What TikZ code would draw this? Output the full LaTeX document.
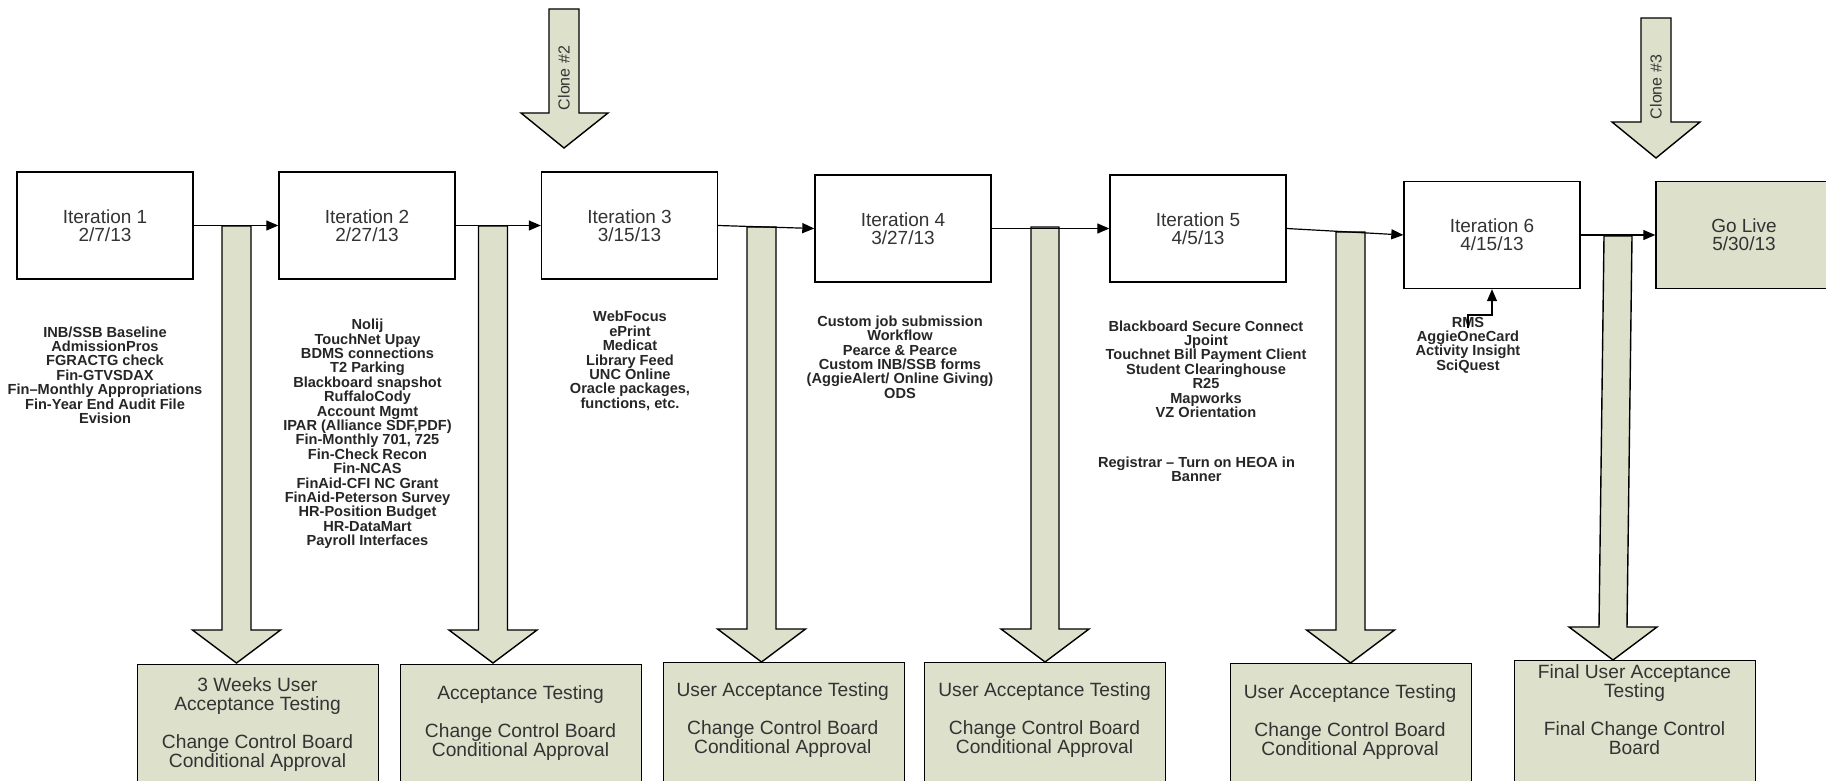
\documentclass[tikz,border=0pt]{standalone}
\usepackage{fontspec}
\setmainfont{Liberation Sans}
\usetikzlibrary{arrows.meta, positioning}
\definecolor{uagreen}{RGB}{221,224,203}
\tikzset{
  iterbox/.style={draw, line width=0.7pt, minimum width=88pt, minimum height=53.5pt, inner sep=0pt, align=center, font=\fontsize{9.5}{9}\selectfont, text=black!80},
  livebox/.style={iterbox, fill=uagreen},
  testbox/.style={draw, line width=0.7pt, fill=uagreen, minimum width=120.5pt, minimum height=70pt, anchor=north west},
  testtext/.style={align=center, inner sep=0pt, font=\fontsize{9.6}{9.5}\selectfont, text=black!80},
  itemlist/.style={align=center, inner sep=0pt, font=\bfseries\fontsize{7.3}{7.2}\selectfont, text=black!85},
  bigarrow/.style={draw, line width=0.7pt, fill=uagreen, line join=miter},
  flow/.style={line width=0.6pt, -{Triangle[length=6pt,width=5pt]}},
  clonetext/.style={rotate=90, inner sep=0pt, font=\fontsize{8}{8}\selectfont, text=black!80}
}

\begin{document}
\begin{tikzpicture}[x=0.5pt, y=-0.5pt]
  \useasboundingbox (0,0) rectangle (1826,781);
  \clip (0,0) rectangle (1826,781);
%% clone arrows
  \draw[bigarrow] (549,9) -- (549,113) -- (521,113) -- (564,148) -- (608,113) -- (579,113) -- (579,9) -- cycle;
  \node[clonetext] (clone2) at (564,78) {Clone \#2};
  \draw[bigarrow] (1641,18) -- (1641,122) -- (1612,122) -- (1656,158) -- (1700,122) -- (1671,122) -- (1671,18) -- cycle;
  \node[clonetext] (clone3) at (1656,87) {Clone \#3};
%% iterations
  \node[iterbox] (i1) at (105,225.5) {Iteration 1\\2/7/13};
  \node[iterbox] (i2) at (367,225.5) {Iteration 2\\2/27/13};
  \node[iterbox] (i3) at (629.5,225.5) {Iteration 3\\3/15/13};
  \node[iterbox] (i4) at (903,228.5) {Iteration 4\\3/27/13};
  \node[iterbox] (i5) at (1198,228.5) {Iteration 5\\4/5/13};
  \node[iterbox] (i6) at (1492,235) {Iteration 6\\4/15/13};
  \node[livebox] (golive) at (1744,235) {Go Live\\5/30/13};
%% down arrows to testing
  \draw[bigarrow] (222,226) -- (222,630) -- (192.5,630) -- (236.5,663) -- (280.5,630) -- (251,630) -- (251,226) -- cycle;
  \draw[bigarrow] (478.5,226) -- (478.5,630) -- (449,630) -- (493,663) -- (537,630) -- (507.5,630) -- (507.5,226) -- cycle;
  \draw[bigarrow] (747,227) -- (747,629) -- (717.5,629) -- (761.5,662) -- (805.5,629) -- (776,629) -- (776,227) -- cycle;
  \draw[bigarrow] (1031,227) -- (1031,629) -- (1001,629) -- (1045,662) -- (1089,629) -- (1059,629) -- (1059,227) -- cycle;
  \draw[bigarrow] (1336,232) -- (1336,630) -- (1306.5,630) -- (1350.5,663) -- (1394.5,630) -- (1365,630) -- (1365,232) -- cycle;
  \draw[bigarrow] (1604,236) -- (1599,627) -- (1569,627) -- (1613,660) -- (1657,627) -- (1627,627) -- (1632,236) -- cycle;
%% flow
  \draw[flow] (i1.east) -- (i2.west);
  \draw[flow] (i2.east) -- (i3.west);
  \draw[flow] (i3.east) -- (i4.west);
  \draw[flow] (i4.east) -- (i5.west);
  \draw[flow] (i5.east) -- (i6.west);
  \draw[flow] (i6.east) -- (golive.west);
%% what goes in
  \node[itemlist] (list1) at (105,375) {INB/SSB Baseline\\AdmissionPros\\FGRACTG check\\Fin-GTVSDAX\\Fin–Monthly Appropriations\\Fin-Year End Audit File\\Evision};
  \node[itemlist] (list2) at (367.5,434) {Nolij\\TouchNet Upay\\BDMS connections\\T2 Parking\\Blackboard snapshot\\RuffaloCody\\Account Mgmt\\IPAR (Alliance SDF,PDF)\\Fin-Monthly 701, 725\\Fin-Check Recon\\Fin-NCAS\\FinAid-CFI NC Grant\\FinAid-Peterson Survey\\HR-Position Budget\\HR-DataMart\\Payroll Interfaces};
  \node[itemlist] (list3) at (630,361) {WebFocus\\ePrint\\Medicat\\Library Feed\\UNC Online\\Oracle packages,\\functions, etc.};
  \node[itemlist] (list4) at (900,357) {Custom job submission\\Workflow\\Pearce \& Pearce\\Custom INB/SSB forms\\(AggieAlert/ Online Giving)\\ODS};
  \node[itemlist] (list5) at (1206,369) {Blackboard Secure Connect\\Jpoint\\Touchnet Bill Payment Client\\Student Clearinghouse\\R25\\Mapworks\\VZ Orientation};
  \node[itemlist] (heoa) at (1196.5,469) {Registrar – Turn on HEOA in\\Banner};
  \node[itemlist] (list6) at (1468,345) {RMS\\AggieOneCard\\Activity Insight\\SciQuest};
  \coordinate (rmsfoot) at (1468,328);
  \draw[flow] (rmsfoot) -- ++(0,-13) -| (i6.south);
%% testing
  \node[testbox] (t1) at (137,664) {};
  \node[testbox] (t2) at (400,664) {};
  \node[testbox] (t3) at (662.5,662) {};
  \node[testbox] (t4) at (924,662) {};
  \node[testbox] (t5) at (1230,663) {};
  \node[testbox] (t6) at (1514,660) {};
  \node[testtext] (t1text) at (257.5,724.5) {3 Weeks User\\Acceptance Testing\\[9.5pt]Change Control Board\\Conditional Approval};
  \node[testtext] (t2text) at (520.5,723.5) {Acceptance Testing\\[9.5pt]Change Control Board\\Conditional Approval};
  \node[testtext] (t3text) at (782.75,720.5) {User Acceptance Testing\\[9.5pt]Change Control Board\\Conditional Approval};
  \node[testtext] (t4text) at (1044.5,720.5) {User Acceptance Testing\\[9.5pt]Change Control Board\\Conditional Approval};
  \node[testtext] (t5text) at (1350,722.5) {User Acceptance Testing\\[9.5pt]Change Control Board\\Conditional Approval};
  \node[testtext] (t6text) at (1634.5,710) {Final User Acceptance\\Testing\\[9.5pt]Final Change Control\\Board};
\end{tikzpicture}
\end{document}
